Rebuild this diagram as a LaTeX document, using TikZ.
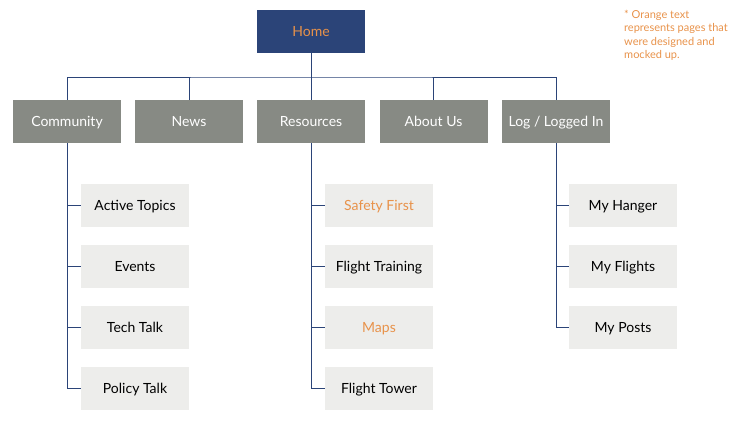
\documentclass[tikz,border=0pt]{standalone}
\usepackage{fontspec}
\setmainfont{Lato}
\definecolor{homeblue}{HTML}{2B4478}
\definecolor{topgray}{HTML}{878A84}
\definecolor{subgray}{HTML}{EDEDEB}
\definecolor{mockorange}{HTML}{E8924A}
\tikzset{
	page/.style={minimum width=108pt, minimum height=43pt, inner sep=0pt, text height=12pt, text depth=2pt, font=\fontsize{14}{16}\selectfont},
	homepage/.style={page, fill=homeblue, text=mockorange},
	toppage/.style={page, fill=topgray, text=white},
	subpage/.style={page, fill=subgray, text=black},
	link/.style={draw=homeblue, line width=0.9pt}
}
\begin{document}
\begin{tikzpicture}[x=1pt, y=-1pt]
	\useasboundingbox (0,0) rectangle (742,426);

	\node[homepage] (home) at (311,31.5) {Home};

	\node[toppage] (community) at (67,121.5) {Community};
	\node[toppage] (news) at (189,121.5) {News};
	\node[toppage] (resources) at (311,121.5) {Resources};
	\node[toppage] (about) at (433.5,121.5) {About Us};
	\node[toppage] (login) at (556,121.5) {Log / Logged In};

	\coordinate (bus) at (311,77);
	\draw[link] (home.south) -- (bus);
	\draw[link] (community.north) |- (bus) -| (login.north);
	\foreach \p in {news, resources, about}
		\draw[link] (\p.north) -- (\p.north |- bus);

	\foreach \t [count=\i] in {Active Topics, Events, Tech Talk, Policy Talk} {
		\node[subpage] (comm\i) at (135,144.5+61*\i) {\t};
		\draw[link] (community.south) |- (comm\i.west);
	}
	\foreach \t/\c [count=\i] in {Safety First/mockorange, Flight Training/black, Maps/mockorange, Flight Tower/black} {
		\node[subpage, text=\c] (res\i) at (379,144.5+61*\i) {\t};
		\draw[link] (resources.south) |- (res\i.west);
	}
	\foreach \t [count=\i] in {My Hanger, My Flights, My Posts} {
		\node[subpage] (log\i) at (623,144.5+61*\i) {\t};
		\draw[link] (login.south) |- (log\i.west);
	}

	\node[anchor=north west, align=left, inner sep=0pt, text=mockorange, font=\fontsize{11}{13.3}\selectfont] (note) at (624,10) {* Orange text\\represents pages that\\were designed and\\mocked up.};
\end{tikzpicture}
\end{document}
